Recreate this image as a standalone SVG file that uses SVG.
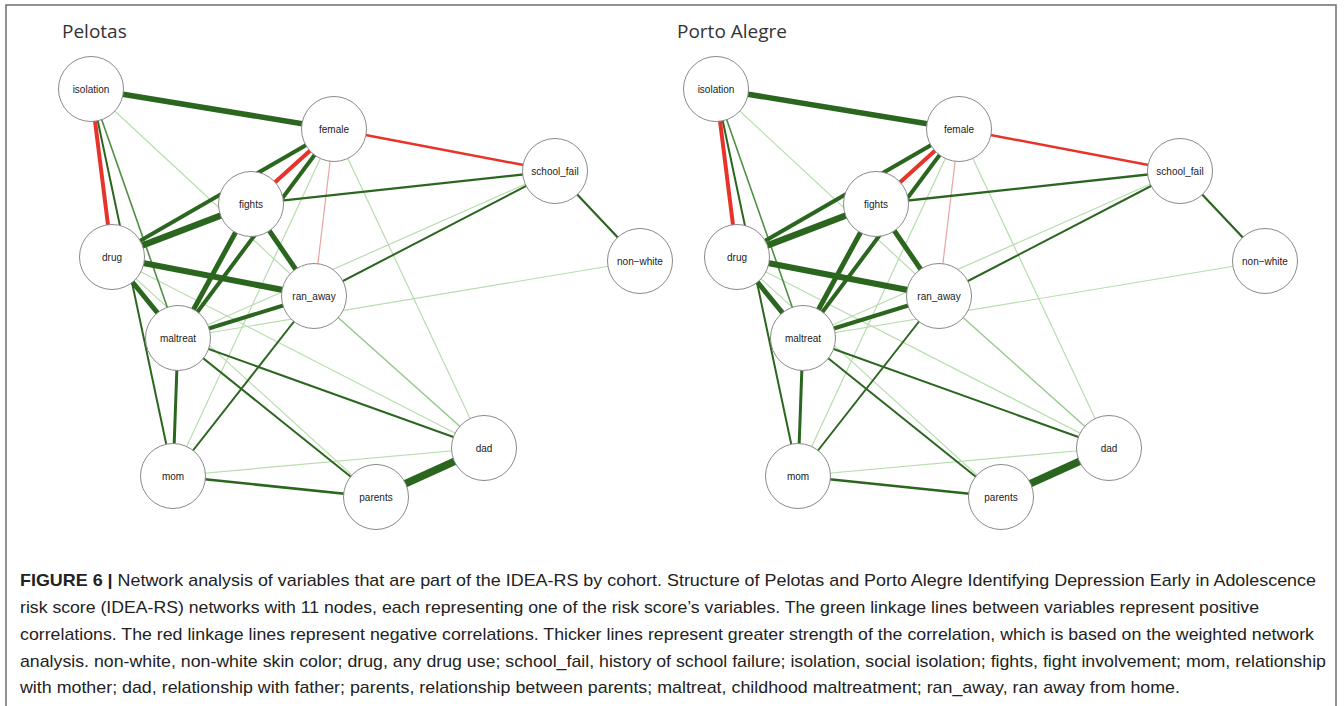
<svg xmlns="http://www.w3.org/2000/svg" xmlns:xlink="http://www.w3.org/1999/xlink" width="1344" height="706" viewBox="0 0 1344 706">
<style>
.e{fill:none;stroke-linecap:butt}
.dk{stroke:#2b661f}
.md{stroke:#4f8f43}
.lt{stroke:#b7ddad}
.lm{stroke:#92c887}
.rd{stroke:#e8332b}
.lr{stroke:#eaa3a3}
.nd circle{fill:#fff;stroke:#8a8a8a;stroke-width:1}
.nd text{font-family:"Liberation Sans",Arial,sans-serif;font-size:10px;fill:#222;text-anchor:middle}
.ttl{font-family:"Open Sans","DejaVu Sans",sans-serif;font-size:19px;fill:#333}
.cap{font-family:"Liberation Sans",Arial,sans-serif;font-size:17px;fill:#222}
</style>
<rect x="0" y="0" width="1344" height="706" fill="#fff"/>
<rect x="6" y="5" width="1330" height="720" fill="none" stroke="#6e6e6e" stroke-width="1.5"/>
<text class="ttl" x="62" y="38">Pelotas</text>
<text class="ttl" x="677" y="38">Porto Alegre</text>

<g id="connectors-pelotas" class="e">
<line class="lt" x1="91" y1="89" x2="314" y2="296" stroke-width="1.2"/>
<line class="lt" x1="334" y1="129" x2="484" y2="448" stroke-width="1.2"/>
<line class="lt" x1="334" y1="129" x2="173" y2="476" stroke-width="1.2"/>
<line class="lt" x1="112" y1="257" x2="484" y2="448" stroke-width="1.2"/>
<line class="lt" x1="112" y1="257" x2="376" y2="497" stroke-width="1.1"/>
<line class="lt" x1="178" y1="338" x2="555" y2="171" stroke-width="1.2"/>
<line class="lt" x1="178" y1="338" x2="640" y2="261" stroke-width="1.2"/>
<line class="lt" x1="173" y1="476" x2="484" y2="448" stroke-width="1.2"/>
<line class="lm" x1="314" y1="296" x2="484" y2="448" stroke-width="1.4"/>
<line class="lr" x1="334" y1="129" x2="314" y2="296" stroke-width="1.2"/>
<line class="md" x1="91" y1="89" x2="178" y2="338" stroke-width="1.6"/>
<line class="dk" x1="91" y1="89" x2="173" y2="476" stroke-width="2"/>
<line class="dk" x1="251" y1="204" x2="555" y2="171" stroke-width="2.3"/>
<line class="dk" x1="314" y1="296" x2="555" y2="171" stroke-width="2"/>
<line class="dk" x1="555" y1="171" x2="640" y2="261" stroke-width="2.2"/>
<line class="dk" x1="314" y1="296" x2="173" y2="476" stroke-width="2"/>
<line class="dk" x1="178" y1="338" x2="376" y2="497" stroke-width="2"/>
<line class="dk" x1="178" y1="338" x2="484" y2="448" stroke-width="2"/>
<line class="dk" x1="173" y1="476" x2="376" y2="497" stroke-width="2.5"/>
<line class="dk" x1="178" y1="338" x2="173" y2="476" stroke-width="3"/>
<line class="dk" x1="178" y1="338" x2="314" y2="296" stroke-width="4"/>
<line class="dk" x1="334" y1="129" x2="112" y2="257" stroke-width="4"/>
<line class="dk" x1="334" y1="129" x2="178" y2="338" stroke-width="4"/>
<line class="dk" x1="251" y1="204" x2="178" y2="338" stroke-width="5"/>
<line class="dk" x1="251" y1="204" x2="314" y2="296" stroke-width="5"/>
<line class="dk" x1="112" y1="257" x2="178" y2="338" stroke-width="5"/>
<line class="dk" x1="112" y1="257" x2="314" y2="296" stroke-width="6"/>
<line class="dk" x1="251" y1="204" x2="112" y2="257" stroke-width="6.5"/>
<line class="dk" x1="91" y1="89" x2="334" y2="129" stroke-width="5.5"/>
<line class="dk" x1="376" y1="497" x2="484" y2="448" stroke-width="7.5"/>
<line class="rd" x1="91" y1="89" x2="112" y2="257" stroke-width="4"/>
<line class="rd" x1="334" y1="129" x2="251" y2="204" stroke-width="4"/>
<line class="rd" x1="334" y1="129" x2="555" y2="171" stroke-width="2.5"/>
</g>

<g id="pel-isolation" class="nd"><circle cx="91" cy="89" r="32.5"/><text x="91" y="92.5">isolation</text></g>
<g id="pel-female" class="nd"><circle cx="334" cy="129" r="32.5"/><text x="334" y="132.5">female</text></g>
<g id="pel-school_fail" class="nd"><circle cx="555" cy="171" r="32.5"/><text x="555" y="174.5">school_fail</text></g>
<g id="pel-fights" class="nd"><circle cx="251" cy="204" r="32.5"/><text x="251" y="207.5">fights</text></g>
<g id="pel-drug" class="nd"><circle cx="112" cy="257" r="32.5"/><text x="112" y="260.5">drug</text></g>
<g id="pel-non-white" class="nd"><circle cx="640" cy="261" r="32.5"/><text x="640" y="264.5">non−white</text></g>
<g id="pel-ran_away" class="nd"><circle cx="314" cy="296" r="32.5"/><text x="314" y="299.5">ran_away</text></g>
<g id="pel-maltreat" class="nd"><circle cx="178" cy="338" r="32.5"/><text x="178" y="341.5">maltreat</text></g>
<g id="pel-dad" class="nd"><circle cx="484" cy="448" r="32.5"/><text x="484" y="451.5">dad</text></g>
<g id="pel-mom" class="nd"><circle cx="173" cy="476" r="32.5"/><text x="173" y="479.5">mom</text></g>
<g id="pel-parents" class="nd"><circle cx="376" cy="497" r="32.5"/><text x="376" y="500.5">parents</text></g>

<g transform="translate(625,0)">
<g id="connectors-porto-alegre" class="e">
<line class="lt" x1="91" y1="89" x2="314" y2="296" stroke-width="1.2"/>
<line class="lt" x1="334" y1="129" x2="484" y2="448" stroke-width="1.2"/>
<line class="lt" x1="334" y1="129" x2="173" y2="476" stroke-width="1.2"/>
<line class="lt" x1="112" y1="257" x2="484" y2="448" stroke-width="1.2"/>
<line class="lt" x1="112" y1="257" x2="376" y2="497" stroke-width="1.1"/>
<line class="lt" x1="178" y1="338" x2="555" y2="171" stroke-width="1.2"/>
<line class="lt" x1="178" y1="338" x2="640" y2="261" stroke-width="1.2"/>
<line class="lt" x1="173" y1="476" x2="484" y2="448" stroke-width="1.2"/>
<line class="lm" x1="314" y1="296" x2="484" y2="448" stroke-width="1.4"/>
<line class="lr" x1="334" y1="129" x2="314" y2="296" stroke-width="1.2"/>
<line class="md" x1="91" y1="89" x2="178" y2="338" stroke-width="1.6"/>
<line class="dk" x1="91" y1="89" x2="173" y2="476" stroke-width="2"/>
<line class="dk" x1="251" y1="204" x2="555" y2="171" stroke-width="2.3"/>
<line class="dk" x1="314" y1="296" x2="555" y2="171" stroke-width="2"/>
<line class="dk" x1="555" y1="171" x2="640" y2="261" stroke-width="2.2"/>
<line class="dk" x1="314" y1="296" x2="173" y2="476" stroke-width="2"/>
<line class="dk" x1="178" y1="338" x2="376" y2="497" stroke-width="2"/>
<line class="dk" x1="178" y1="338" x2="484" y2="448" stroke-width="2"/>
<line class="dk" x1="173" y1="476" x2="376" y2="497" stroke-width="2.5"/>
<line class="dk" x1="178" y1="338" x2="173" y2="476" stroke-width="3"/>
<line class="dk" x1="178" y1="338" x2="314" y2="296" stroke-width="4"/>
<line class="dk" x1="334" y1="129" x2="112" y2="257" stroke-width="4"/>
<line class="dk" x1="334" y1="129" x2="178" y2="338" stroke-width="4"/>
<line class="dk" x1="251" y1="204" x2="178" y2="338" stroke-width="5"/>
<line class="dk" x1="251" y1="204" x2="314" y2="296" stroke-width="5"/>
<line class="dk" x1="112" y1="257" x2="178" y2="338" stroke-width="5"/>
<line class="dk" x1="112" y1="257" x2="314" y2="296" stroke-width="6"/>
<line class="dk" x1="251" y1="204" x2="112" y2="257" stroke-width="6.5"/>
<line class="dk" x1="91" y1="89" x2="334" y2="129" stroke-width="5.5"/>
<line class="dk" x1="376" y1="497" x2="484" y2="448" stroke-width="7.5"/>
<line class="rd" x1="91" y1="89" x2="112" y2="257" stroke-width="4"/>
<line class="rd" x1="334" y1="129" x2="251" y2="204" stroke-width="4"/>
<line class="rd" x1="334" y1="129" x2="555" y2="171" stroke-width="2.5"/>
</g>
<g id="pa-isolation" class="nd"><circle cx="91" cy="89" r="32.5"/><text x="91" y="92.5">isolation</text></g>
<g id="pa-female" class="nd"><circle cx="334" cy="129" r="32.5"/><text x="334" y="132.5">female</text></g>
<g id="pa-school_fail" class="nd"><circle cx="555" cy="171" r="32.5"/><text x="555" y="174.5">school_fail</text></g>
<g id="pa-fights" class="nd"><circle cx="251" cy="204" r="32.5"/><text x="251" y="207.5">fights</text></g>
<g id="pa-drug" class="nd"><circle cx="112" cy="257" r="32.5"/><text x="112" y="260.5">drug</text></g>
<g id="pa-non-white" class="nd"><circle cx="640" cy="261" r="32.5"/><text x="640" y="264.5">non−white</text></g>
<g id="pa-ran_away" class="nd"><circle cx="314" cy="296" r="32.5"/><text x="314" y="299.5">ran_away</text></g>
<g id="pa-maltreat" class="nd"><circle cx="178" cy="338" r="32.5"/><text x="178" y="341.5">maltreat</text></g>
<g id="pa-dad" class="nd"><circle cx="484" cy="448" r="32.5"/><text x="484" y="451.5">dad</text></g>
<g id="pa-mom" class="nd"><circle cx="173" cy="476" r="32.5"/><text x="173" y="479.5">mom</text></g>
<g id="pa-parents" class="nd"><circle cx="376" cy="497" r="32.5"/><text x="376" y="500.5">parents</text></g>
</g>

<g id="caption" class="cap">
<text x="20" y="586" textLength="1296" lengthAdjust="spacingAndGlyphs"><tspan font-weight="bold">FIGURE 6 |</tspan> Network analysis of variables that are part of the IDEA-RS by cohort. Structure of Pelotas and Porto Alegre Identifying Depression Early in Adolescence</text>
<text x="20" y="613" textLength="1239" lengthAdjust="spacingAndGlyphs">risk score (IDEA-RS) networks with 11 nodes, each representing one of the risk score’s variables. The green linkage lines between variables represent positive</text>
<text x="20" y="640" textLength="1294" lengthAdjust="spacingAndGlyphs">correlations. The red linkage lines represent negative correlations. Thicker lines represent greater strength of the correlation, which is based on the weighted network</text>
<text x="20" y="667" textLength="1306" lengthAdjust="spacingAndGlyphs">analysis. non-white, non-white skin color; drug, any drug use; school_fail, history of school failure; isolation, social isolation; fights, fight involvement; mom, relationship</text>
<text x="20" y="693" textLength="1160" lengthAdjust="spacingAndGlyphs">with mother; dad, relationship with father; parents, relationship between parents; maltreat, childhood maltreatment; ran_away, ran away from home.</text>
</g>
</svg>
